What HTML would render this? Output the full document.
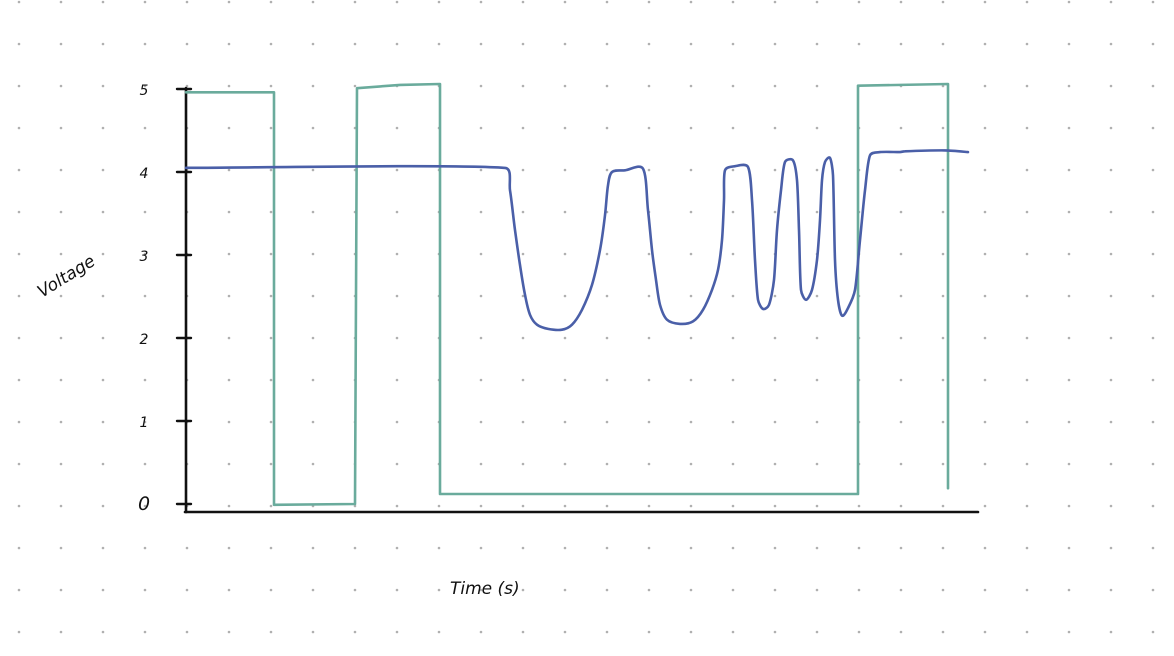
<!DOCTYPE html>
<html><head><meta charset="utf-8"><style>
html,body{margin:0;padding:0;background:#fff;width:1174px;height:656px;overflow:hidden}
svg{display:block}
.hand{font-family:"DejaVu Sans","Liberation Sans",sans-serif;font-style:italic;fill:#111}
</style></head><body>
<svg id="chart" width="1174" height="656" viewBox="0 0 1174 656" xmlns="http://www.w3.org/2000/svg">
<g id="dots"></g>
<g id="axes"></g>
<g id="series"></g>
<text class="hand" x="0" y="0" font-size="17" transform="translate(42,298) rotate(-32)">Voltage</text>
<text class="hand" x="450" y="594" font-size="17">Time (s)</text>
</svg>
<script>
// data
const yTicks = [0,1,2,3,4,5];
const yTickLabels = ["0","1","2","3","4","5"];
const squareTime = [0,8.8,8.8,16.9,17.1,21.4,25.4,25.4,67.2,67.2,76.2,76.2];
const squareVolt = [4.96,4.96,-0.01,0,5.01,5.05,5.06,0.12,0.12,5.04,5.06,0.19];
const sensorTime = [0,31.9,32.4,32.9,33.4,33.9,34.4,35.1,36.2,37.6,38.6,39.6,40.6,41.4,41.9,42.2,42.6,43.9,45.7,46.2,46.6,47.0,47.4,48.1,49.4,50.7,51.7,52.6,53.2,53.6,53.8,53.9,54.9,56.2,56.6,56.9,57.2,57.7,58.3,58.8,59.1,59.5,59.9,60.7,61.1,61.3,61.5,62.0,62.6,63.1,63.4,63.6,63.9,64.4,64.7,64.9,65.2,65.6,66.2,66.9,67.4,67.9,68.4,69.4,71.4,71.9,75.9,78.2];
const sensorVolt = [4.05,4.05,3.78,3.30,2.88,2.52,2.28,2.16,2.11,2.10,2.16,2.34,2.64,3.06,3.48,3.84,4.00,4.02,4.04,3.54,3.06,2.70,2.40,2.22,2.17,2.20,2.34,2.58,2.82,3.18,3.66,4.02,4.07,4.06,3.66,2.94,2.46,2.35,2.40,2.70,3.30,3.78,4.12,4.14,3.90,3.30,2.58,2.46,2.58,2.94,3.42,3.90,4.12,4.17,3.96,2.94,2.46,2.27,2.36,2.58,3.18,3.78,4.20,4.24,4.24,4.25,4.26,4.24];

const NS="http://www.w3.org/2000/svg";
const X0=186, PXS=10, Y0=504, PXV=83;
function xs(t){return X0+t*PXS;}
function ys(v){return Y0-v*PXV;}
function mk(tag,attrs,parent){const e=document.createElementNS(NS,tag);for(const k in attrs)e.setAttribute(k,attrs[k]);parent.appendChild(e);return e;}

const dots=document.getElementById('dots');
for(let gx=19;gx<1174;gx+=42){for(let gy=2;gy<656;gy+=42){
  const c=mk('circle',{cx:gx,cy:gy,r:1.3,fill:'#b0b0b0'},dots);
  
  
}}

const axes=document.getElementById('axes');
const ya=mk('line',{x1:186,y1:88,x2:186,y2:512,stroke:'#111','stroke-width':2.6,'stroke-linecap':'round'},axes);


const xa=mk('line',{x1:185,y1:512,x2:978,y2:512,stroke:'#111','stroke-width':2.6,'stroke-linecap':'round'},axes);


yTicks.forEach((v,i)=>{
  const y=ys(v);
  const tk=mk('line',{x1:177,y1:y,x2:191,y2:y,stroke:'#111','stroke-width':2.4,'stroke-linecap':'round'},axes);
  
  
  const lb=mk('text',{x:144,y:y+6,'font-size':v===0?19:14,'text-anchor':'middle',class:'hand'},axes);
  lb.textContent=yTickLabels[i];
  
  
});

const series=document.getElementById('series');
function line(ts,vs,color,name){
  const pts=ts.map((t,i)=>xs(t).toFixed(1)+','+ys(vs[i]).toFixed(1)).join(' ');
  const p=mk('polyline',{points:pts,fill:'none',stroke:color,'stroke-width':2.6,'stroke-linejoin':'round','stroke-linecap':'round'},series);
  
  
}
function clampVec(v,maxLen){const l=Math.hypot(v[0],v[1]);if(l>maxLen&&l>0){return [v[0]*maxLen/l,v[1]*maxLen/l];}return v;}
function smooth(ts,vs,color,name){
  const P=ts.map((t,i)=>[xs(t),ys(vs[i])]);
  let d='M'+P[0][0]+','+P[0][1];
  for(let i=0;i<P.length-1;i++){
    const p0=P[Math.max(0,i-1)],p1=P[i],p2=P[i+1],p3=P[Math.min(P.length-1,i+2)];
    const seg=Math.hypot(p2[0]-p1[0],p2[1]-p1[1])/3;
    const t1=clampVec([(p2[0]-p0[0])/6,(p2[1]-p0[1])/6],seg);
    const t2=clampVec([(p3[0]-p1[0])/6,(p3[1]-p1[1])/6],seg);
    const c1=[p1[0]+t1[0],p1[1]+t1[1]];
    const c2=[p2[0]-t2[0],p2[1]-t2[1]];
    d+=' C'+c1[0].toFixed(1)+','+c1[1].toFixed(1)+' '+c2[0].toFixed(1)+','+c2[1].toFixed(1)+' '+p2[0].toFixed(1)+','+p2[1].toFixed(1);
  }
  const p=mk('path',{d:d,fill:'none',stroke:color,'stroke-width':2.6,'stroke-linejoin':'round','stroke-linecap':'round'},series);
  
  
}
line(squareTime,squareVolt,'#6aab9c','square-wave-line');
smooth(sensorTime,sensorVolt,'#4a5fa8','sensor-voltage-line');
</script>
</body></html>
